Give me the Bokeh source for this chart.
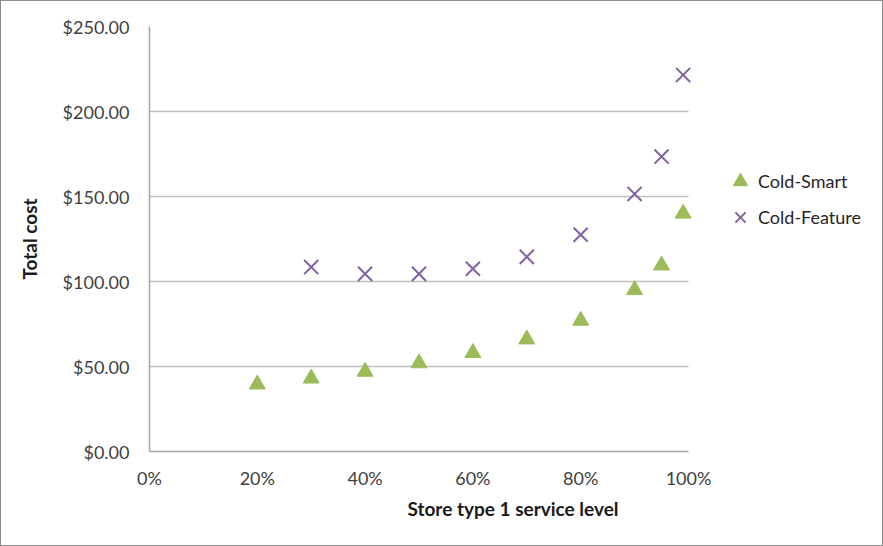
from bokeh.plotting import figure
from bokeh.models import NumeralTickFormatter, Legend, LegendItem, Range1d, FixedTicker
from bokeh.embed import file_html
from bokeh.resources import INLINE

# Data
service_smart = [0.20, 0.30, 0.40, 0.50, 0.60, 0.70, 0.80, 0.90, 0.95, 0.99]
cost_smart = [39.5, 43.0, 47.0, 52.0, 58.0, 66.0, 77.0, 95.0, 109.5, 140.0]
service_feature = [0.30, 0.40, 0.50, 0.60, 0.70, 0.80, 0.90, 0.95, 0.99]
cost_feature = [108.5, 104.5, 104.5, 107.5, 114.5, 127.5, 151.5, 173.5, 221.5]
x_ticks = [0, 0.2, 0.4, 0.6, 0.8, 1.0]
y_ticks = [0, 50, 100, 150, 200, 250]

GREEN = "#9BBB59"
PURPLE = "#8064A2"
FONT = "Lato"

# frame spans 148..875 px; the 0-100% axis occupies 148..687 px, the rest holds the legend
X_END = (875 - 148) / (687 - 148)

p = figure(width=883, height=546, output_backend="svg", toolbar_location=None,
           x_range=Range1d(0, X_END), y_range=Range1d(0, 250),
           min_border_left=148, min_border_right=8, min_border_top=25, min_border_bottom=96)
p.styles = {"border": "1px solid #8c8c8c", "box-sizing": "border-box"}
p.outline_line_color = None
p.background_fill_color = "white"
p.border_fill_color = "white"

r1 = p.scatter(service_smart, cost_smart, marker="triangle", size=16,
               fill_color=GREEN, line_color=GREEN)
r2 = p.scatter(service_feature, cost_feature, marker="x", size=20,
               line_color=PURPLE, line_width=2)

p.xaxis.ticker = FixedTicker(ticks=x_ticks)
p.yaxis.ticker = FixedTicker(ticks=y_ticks)
p.xaxis.formatter = NumeralTickFormatter(format="0%")
p.yaxis.formatter = NumeralTickFormatter(format="$0.00")
p.xaxis.bounds = (0, 1)

for ax in (p.xaxis[0], p.yaxis[0]):
    ax.axis_line_color = "#a6a6a6"
    ax.axis_line_width = 1.5
    ax.major_tick_line_color = None
    ax.minor_tick_line_color = None
    ax.major_label_text_font = FONT
    ax.major_label_text_font_size = "18px"
    ax.major_label_text_color = "#404040"
    ax.axis_label_text_font = FONT
    ax.axis_label_text_font_size = "19px"
    ax.axis_label_text_font_style = "bold"
    ax.axis_label_text_color = "#1a1a1a"

p.xaxis.axis_label = "Store type 1 service level"
p.yaxis.axis_label = "Total cost"
p.xaxis.major_label_standoff = 9
p.yaxis.major_label_standoff = 14
p.xaxis.axis_label_standoff = 5
p.yaxis.axis_label_standoff = 19

p.xgrid.grid_line_color = None
p.ygrid.grid_line_color = "#c0c0c0"
p.ygrid.grid_line_width = 1.5
p.ygrid.cross_bounds = (0, 1)

legend = Legend(items=[LegendItem(label="Cold-Smart", renderers=[r1]),
                       LegendItem(label="Cold-Feature", renderers=[r2])],
                location=(573, 216), orientation="vertical")
legend.border_line_color = None
legend.background_fill_alpha = 0
legend.padding = 0
legend.margin = 0
legend.spacing = 0
legend.glyph_width = 36
legend.glyph_height = 36
legend.label_standoff = -12
legend.label_text_font = FONT
legend.label_text_font_size = "18px"
legend.label_text_color = "#262626"
p.add_layout(legend, "center")

open("out.html", "w").write(file_html(p, INLINE))
